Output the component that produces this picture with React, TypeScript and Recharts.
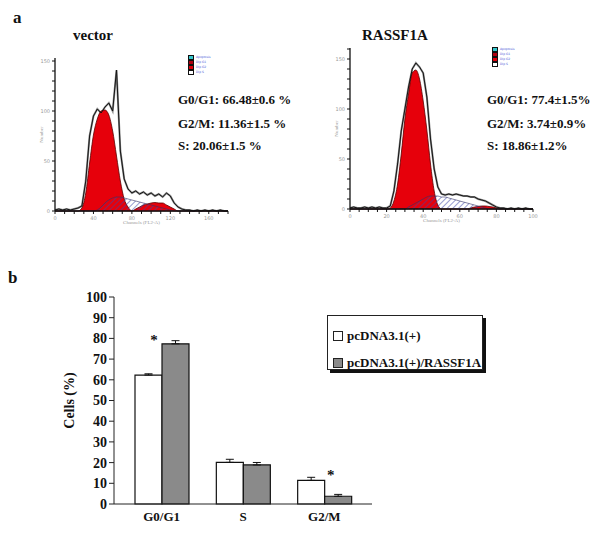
import React from 'react';
import {
  ComposedChart,
  Area,
  Line,
  XAxis,
  YAxis,
  Legend,
  BarChart,
  Bar,
  ErrorBar,
  LabelList,
} from 'recharts';

const SERIF = '"Liberation Serif", "Times New Roman", serif';

// ---- panel a: DNA content histograms ----
const vectorChannels = [
  0, 4, 8, 12, 16, 20, 24, 28, 32, 36, 40, 44, 48, 52, 56, 60, 64, 68, 72, 76, 80, 84, 88, 92,
  96, 100, 104, 108, 112, 116, 120, 124, 128, 132, 136, 140, 144, 148, 152, 156, 160, 164, 168,
  172, 176, 180,
];
const vectorTotal = [
  1, 2, 1, 2, 1, 2, 3, 5, 30, 75, 95, 102, 98, 104, 108, 100, 141, 60, 32, 22, 18, 20, 17, 19,
  16, 18, 15, 17, 14, 18, 15, 8, 4, 2, 1, 1, 0, 1, 0, 1, 0, 1, 0, 1, 0, 0,
];
const vectorG1 = [
  0, 0, 0, 0, 0, 0, 0, 3, 18, 48, 76, 92, 100, 101, 96, 80, 55, 30, 12, 4,
  0, 0, 0, 0, 0, 0, 0, 0, 0, 0, 0, 0, 0, 0, 0, 0, 0, 0, 0, 0, 0, 0, 0, 0, 0, 0,
];
const vectorG2 = [
  0, 0, 0, 0, 0, 0, 0, 0, 0, 0, 0, 0, 0, 0, 0, 0, 0, 0, 0, 0, 0,
  2, 4, 6, 7, 8, 8.5, 8, 8, 6, 4, 2,
  0, 0, 0, 0, 0, 0, 0, 0, 0, 0, 0, 0, 0, 0,
];
const vectorS = [
  0, 0, 0, 0, 0, 0, 0, 0, 0, 0, 0,
  1, 4, 8, 11, 13, 14, 14, 13, 12, 11, 10, 9, 8, 7, 6, 5, 4, 3, 2, 1,
  0, 0, 0, 0, 0, 0, 0, 0, 0, 0, 0, 0, 0, 0, 0,
];

const rassfChannels = [
  0, 2, 4, 6, 8, 10, 12, 14, 16, 18, 20, 22, 24, 26, 28, 30, 32, 34, 36, 38, 40, 42, 44, 46, 48,
  50, 52, 54, 56, 58, 60, 62, 64, 66, 68, 70, 72, 74, 76, 78, 80, 82, 84, 86, 88, 90, 92, 94, 96,
  98, 100,
];
const rassfTotal = [
  1, 2, 1, 1, 2, 1, 2, 1, 2, 1, 1,
  3, 18, 45, 78, 100, 122, 140, 146, 142, 136, 112, 70, 40, 22, 15,
  14, 15, 14, 15, 14, 13, 13, 12, 12, 10, 9, 8, 6, 4, 2, 1,
  1, 0, 1, 0, 1, 0, 1, 0, 0,
];
const rassfG1 = [
  0, 0, 0, 0, 0, 0, 0, 0, 0, 0, 0,
  1, 8, 25, 55, 90, 115, 136, 139, 130, 108, 79, 45, 18, 4,
  0, 0, 0, 0, 0, 0, 0, 0, 0, 0, 0, 0, 0, 0, 0, 0, 0, 0, 0, 0, 0, 0, 0, 0, 0, 0,
];
const rassfG2 = [
  0, 0, 0, 0, 0, 0, 0, 0, 0, 0, 0, 0, 0, 0, 0, 0, 0, 0, 0, 0, 0, 0, 0, 0, 0, 0, 0, 0, 0, 0, 0, 0, 0,
  1, 2, 2.5, 3, 3, 2.5, 2, 1,
  0, 0, 0, 0, 0, 0, 0, 0, 0, 0,
];
const rassfS = [
  0, 0, 0, 0, 0, 0, 0, 0, 0, 0, 0, 0, 0, 0, 0, 0,
  2, 4, 6, 8, 10, 12, 13, 13, 13, 12, 12, 11, 10, 9, 8, 7, 6, 5, 4, 3, 2, 1,
  0, 0, 0, 0, 0, 0, 0, 0, 0, 0, 0, 0, 0,
];

const histKeys = [
  { name: 'Apoptosis', color: '#33c6cc' },
  { name: 'Dip G1', color: '#b00010' },
  { name: 'Dip G2', color: '#e0000b' },
  { name: 'Dip S', color: '#ffffff' },
];

const vectorStats = ['G0/G1: 66.48±0.6 %', 'G2/M: 11.36±1.5 %', 'S: 20.06±1.5 %'];
const rassfStats = ['G0/G1: 77.4±1.5%', 'G2/M: 3.74±0.9%', 'S: 18.86±1.2%'];

// ---- panel b: cell cycle distribution ----
const phases = ['G0/G1', 'S', 'G2/M'];
const vectorMean = [62.3, 20.1, 11.4];
const vectorErr = [0.6, 1.5, 1.5];
const rassfMean = [77.4, 18.86, 3.74];
const rassfErr = [1.5, 1.2, 0.9];
const significance = ['*', '', '*'];
const seriesNames = ['pcDNA3.1(+)', 'pcDNA3.1(+)/RASSF1A'];
const cellTicks = [0, 10, 20, 30, 40, 50, 60, 70, 80, 90, 100];

const vectorRows = vectorChannels.map((ch, i) => ({
  ch,
  total: vectorTotal[i],
  g1: vectorG1[i],
  g2: vectorG2[i],
  s: vectorS[i],
}));
const rassfRows = rassfChannels.map((ch, i) => ({
  ch,
  total: rassfTotal[i],
  g1: rassfG1[i],
  g2: rassfG2[i],
  s: rassfS[i],
}));
const barRows = phases.map((phase, i) => ({
  phase,
  vec: vectorMean[i],
  ras: rassfMean[i],
  vecErr: [0, vectorErr[i]],
  rasErr: [0, rassfErr[i]],
  sig: significance[i],
}));

const HistKey = () => (
  <div style={{ fontFamily: 'DejaVu Sans', fontSize: 3, color: '#4a5ad8', lineHeight: '5px' }}>
    {histKeys.map((k) => (
      <div key={k.name} style={{ display: 'flex', alignItems: 'center', height: 5 }}>
        <span
          style={{
            display: 'inline-block',
            width: 4,
            height: 3,
            background: k.color,
            border: '1px solid #111',
            marginRight: 2,
          }}
        />
        {k.name}
      </div>
    ))}
  </div>
);

interface HistProps {
  rows: any[];
  left: number;
  top: number;
  width: number;
  height: number;
  xMax: number;
  xTicks: number[];
  xLabelStep: number;
  yMax: number;
  yTicks: number[];
  hatchId: string;
  keyLeft: number;
  keyTop: number;
}

const Histogram = (p: HistProps) => (
  <div style={{ position: 'absolute', left: p.left, top: p.top }}>
    <ComposedChart
      width={p.width}
      height={p.height}
      data={p.rows}
      margin={{ top: 8, right: 12, left: 0, bottom: 0 }}
    >
      <defs>
        <pattern
          id={p.hatchId}
          width={4}
          height={4}
          patternUnits="userSpaceOnUse"
          patternTransform="rotate(45)"
        >
          <line x1={0} y1={0} x2={0} y2={4} stroke="#3b45a8" strokeWidth={1.1} />
        </pattern>
      </defs>
      <XAxis
        type="number"
        dataKey="ch"
        domain={[0, p.xMax]}
        ticks={p.xTicks}
        interval={0}
        tickFormatter={(v: number) => (v % p.xLabelStep === 0 ? String(v) : '')}
        tickSize={3}
        tick={{ fontSize: 5, fill: '#999', fontFamily: 'DejaVu Sans' }}
        axisLine={{ stroke: '#111', strokeWidth: 1.3 }}
        tickLine={{ stroke: '#111' }}
        height={24}
        label={{ value: 'Channels (FL2-A)', position: 'insideBottom', offset: 11, fontSize: 5, fill: '#999' }}
      />
      <YAxis
        type="number"
        domain={[0, p.yMax]}
        ticks={p.yTicks}
        interval={0}
        tickFormatter={(v: number) => (v % 50 === 0 ? String(v) : '')}
        tickSize={3}
        tick={{ fontSize: 5, fill: '#999', fontFamily: 'DejaVu Sans' }}
        axisLine={{ stroke: '#111', strokeWidth: 1.3 }}
        tickLine={{ stroke: '#111' }}
        width={35}
        label={{ value: 'Number', angle: -90, position: 'center', dx: 4, fontSize: 5, fill: '#999' }}
      />
      <Legend
        layout="vertical"
        align="center"
        verticalAlign="middle"
        wrapperStyle={{ left: p.keyLeft, top: p.keyTop, width: 40 }}
        content={() => <HistKey />}
      />
      <Area
        type="linear"
        dataKey="total"
        fill="#ffffff"
        fillOpacity={1}
        stroke="#8a8a8a"
        strokeWidth={2}
        isAnimationActive={false}
      />
      <Area
        type="monotone"
        dataKey="g1"
        fill="#e6000b"
        fillOpacity={1}
        stroke="#5a0000"
        strokeWidth={0.8}
        isAnimationActive={false}
      />
      <Area
        type="monotone"
        dataKey="g2"
        fill="#e6000b"
        fillOpacity={1}
        stroke="#5a0000"
        strokeWidth={0.8}
        isAnimationActive={false}
      />
      <Area
        type="monotone"
        dataKey="s"
        fill={`url(#${p.hatchId})`}
        fillOpacity={1}
        stroke="#333366"
        strokeWidth={0.6}
        isAnimationActive={false}
      />
      <Line
        type="linear"
        dataKey="total"
        stroke="#151515"
        strokeWidth={1}
        dot={false}
        isAnimationActive={false}
      />
    </ComposedChart>
  </div>
);

const starShift = [
  { dx: -8, dy: 1.5 },
  { dx: 0, dy: 0 },
  { dx: 6, dy: -16 },
];

const renderStar = (props: any) => {
  const { value, index } = props;
  if (!value) return null;
  const vb = props.viewBox || props;
  const s = starShift[index] || { dx: 0, dy: 0 };
  return (
    <text
      x={vb.x + s.dx}
      y={vb.y + s.dy}
      fontFamily={SERIF}
      fontSize={15}
      fontWeight="bold"
      fill="#111"
      textAnchor="middle"
    >
      {value}
    </text>
  );
};

const BarKey = () => (
  <div
    style={{
      boxSizing: 'border-box',
      width: 156,
      height: 55,
      border: '1px solid #222',
      boxShadow: '3px 3px 0 #111',
      background: '#fff',
      fontFamily: SERIF,
      fontSize: 13,
      fontWeight: 'bold',
      color: '#111',
      padding: '6px 0 0 5px',
    }}
  >
    {seriesNames.map((n, i) => (
      <div key={n} style={{ display: 'flex', alignItems: 'center', height: 27 }}>
        <span
          style={{
            display: 'inline-block',
            boxSizing: 'border-box',
            width: 10,
            height: 10,
            border: '1px solid #222',
            background: i === 0 ? '#fff' : '#8a8a8a',
            marginRight: 4,
          }}
        />
        {n}
      </div>
    ))}
  </div>
);

const Txt = ({ x, y, size, children }: { x: number; y: number; size: number; children: React.ReactNode }) => (
  <div
    style={{
      position: 'absolute',
      left: x,
      top: y,
      fontFamily: SERIF,
      fontWeight: 'bold',
      fontSize: size,
      lineHeight: `${size}px`,
      color: '#111',
      whiteSpace: 'nowrap',
    }}
  >
    {children}
  </div>
);

const App = () => {
  return (
    <div
      style={{
        position: 'absolute',
        left: 0,
        top: 0,
        width: 600,
        height: 547,
        background: '#fff',
        overflow: 'hidden',
      }}
    >
      <Txt x={13} y={9} size={17}>a</Txt>
      <Txt x={73} y={28} size={15}>vector</Txt>
      <Txt x={362} y={28} size={15}>RASSF1A</Txt>

      <Histogram
        rows={vectorRows}
        left={20}
        top={50}
        width={220}
        height={185}
        xMax={180}
        xTicks={[0, 10, 20, 30, 40, 50, 60, 70, 80, 90, 100, 110, 120, 130, 140, 150, 160, 170, 180]}
        xLabelStep={40}
        yMax={153}
        yTicks={[0, 10, 20, 30, 40, 50, 60, 70, 80, 90, 100, 110, 120, 130, 140, 150]}
        hatchId="hatchVector"
        keyLeft={168}
        keyTop={5}
      />
      <Histogram
        rows={rassfRows}
        left={315}
        top={40}
        width={230}
        height={193}
        xMax={100}
        xTicks={[0, 5, 10, 15, 20, 25, 30, 35, 40, 45, 50, 55, 60, 65, 70, 75, 80, 85, 90, 95, 100]}
        xLabelStep={20}
        yMax={161}
        yTicks={[0, 10, 20, 30, 40, 50, 60, 70, 80, 90, 100, 110, 120, 130, 140, 150, 160]}
        hatchId="hatchRassf"
        keyLeft={177}
        keyTop={7}
      />

      {vectorStats.map((t, i) => (
        <Txt key={t} x={178} y={[93, 117, 139][i]} size={13}>{t}</Txt>
      ))}
      {rassfStats.map((t, i) => (
        <Txt key={t} x={487} y={[93, 117, 139][i]} size={13}>{t}</Txt>
      ))}

      <Txt x={8} y={269} size={17}>b</Txt>

      <div style={{ position: 'absolute', left: 20, top: 285 }}>
        <BarChart
          width={480}
          height={250}
          data={barRows}
          margin={{ top: 12, right: 128, left: 0, bottom: 0 }}
          barCategoryGap={13}
          barGap={0}
        >
          <XAxis
            dataKey="phase"
            padding={{ left: 7, right: 7 }}
            tickLine={false}
            axisLine={{ stroke: '#222', strokeWidth: 1 }}
            tick={{ fontFamily: SERIF, fontSize: 13, fontWeight: 'bold', fill: '#111' }}
            height={31}
          />
          <YAxis
            domain={[0, 100]}
            ticks={cellTicks}
            interval={0}
            tickSize={5}
            axisLine={{ stroke: '#222', strokeWidth: 1 }}
            tickLine={{ stroke: '#222' }}
            tick={{ fontFamily: SERIF, fontSize: 14, fontWeight: 'bold', fill: '#111' }}
            width={94}
            label={{
              value: 'Cells (%)',
              angle: -90,
              position: 'center',
              dx: 2,
              fontFamily: SERIF,
              fontSize: 14,
              fontWeight: 'bold',
              fill: '#111',
            }}
          />
          <Legend
            layout="vertical"
            align="center"
            verticalAlign="middle"
            wrapperStyle={{ left: 307, top: 30, width: 160 }}
            content={() => <BarKey />}
          />
          <Bar dataKey="vec" name={seriesNames[0]} fill="#ffffff" stroke="#111" strokeWidth={1.2} barSize={27} isAnimationActive={false}>
            <ErrorBar dataKey="vecErr" width={4} stroke="#111" strokeWidth={1} />
          </Bar>
          <Bar dataKey="ras" name={seriesNames[1]} fill="#8a8a8a" stroke="#111" strokeWidth={1.2} barSize={27} isAnimationActive={false}>
            <ErrorBar dataKey="rasErr" width={4} stroke="#111" strokeWidth={1} />
            <LabelList dataKey="sig" content={renderStar} />
          </Bar>
        </BarChart>
      </div>
    </div>
  );
};

export default App;
